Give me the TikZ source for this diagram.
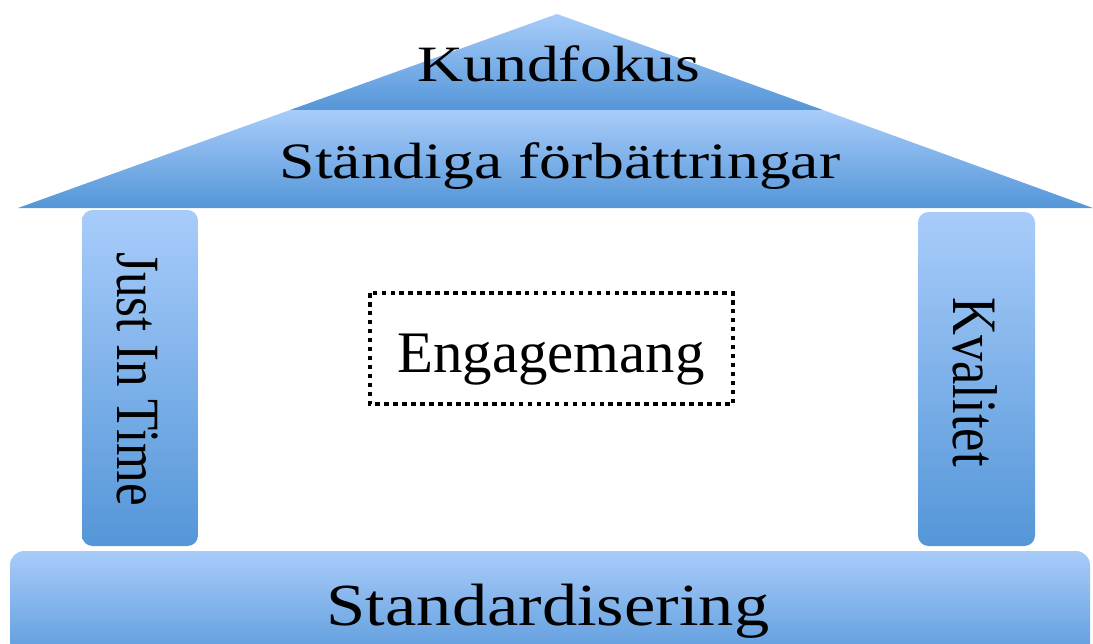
\documentclass[tikz,border=0pt]{standalone}
\usepackage{fontspec}
\setmainfont{Liberation Serif}
\newfontfamily\roofserif[FakeStretch=1.25]{Liberation Serif}
\newfontfamily\baseserif[FakeStretch=1.18]{Liberation Serif}
\newfontfamily\pillarserif[FakeStretch=0.83]{Liberation Serif}

\definecolor{houselight}{RGB}{168,204,250}
\definecolor{housedark}{RGB}{84,150,216}

\tikzset{
    part/.style={top color=houselight, bottom color=housedark, draw=none},
    pillar/.style={part, rounded corners=6},
    rooftext/.style={anchor=base, inner sep=0pt, font=\roofserif\fontsize{29}{29}\selectfont},
    pillartext/.style={anchor=base, inner sep=0pt, rotate=-90},
    dotbox/.style={draw=black, line width=2.6pt, dash pattern=on 2.6pt off 2.5pt}
}

\begin{document}
\begin{tikzpicture}[x=0.02cm, y=-0.02cm]

    \useasboundingbox (0,0) rectangle (1093,643);
    \clip (0,0) rectangle (1093,643);

    % roof corners
    \coordinate (apex) at (557,14);
    \coordinate (r1) at (290,110);
    \coordinate (r2) at (823,110);
    \coordinate (r3) at (18,208);
    \coordinate (r4) at (1093,208);

    % roof in two layers
    \shade[part] (apex) -- (r2) -- (r1) -- cycle;
    \shade[part] (r1) -- (r2) -- (r4) -- (r3) -- cycle;

    % pillars and foundation
    \shade[pillar] (82,210) rectangle (198,546);
    \shade[pillar] (918,212) rectangle (1035,546);
    \shade[part, rounded corners=8] (10,551) rectangle (1090,670);

    % centre box
    \draw[dotbox] (370,293) rectangle (733,404);

    \node[rooftext] (kund) at (559,81) {Kundfokus};
    \node[rooftext] (forb) at (560,178) {Ständiga förbättringar};
    \node[anchor=base, inner sep=0pt, font=\baseserif\fontsize{34}{34}\selectfont]
        (stand) at (548,625) {Standardisering};
    \node[pillartext, font=\pillarserif\fontsize{35}{35}\selectfont]
        (jit) at (117,379) {Just In Time};
    \node[pillartext, font=\pillarserif\fontsize{36}{36}\selectfont]
        (kval) at (953,382) {Kvalitet};
    \node[anchor=base, inner sep=0pt, font=\fontsize{33.5}{33.5}\selectfont]
        (engage) at (551,372) {Engagemang};

\end{tikzpicture}
\end{document}
